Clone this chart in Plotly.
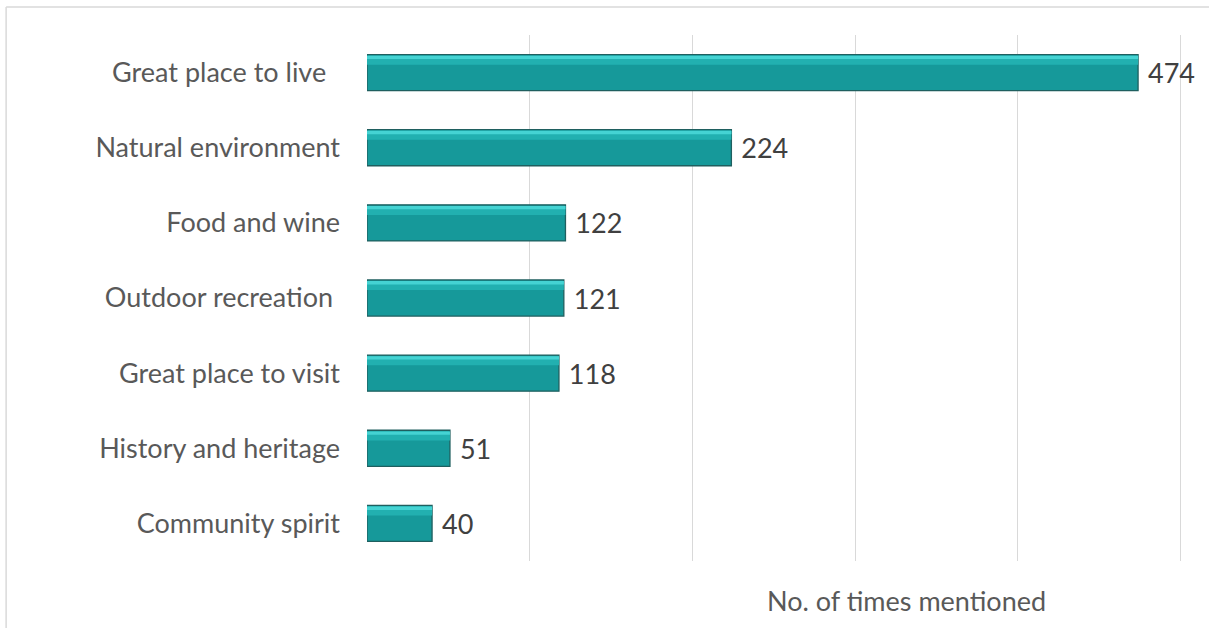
import plotly.graph_objects as go

categories = ["Great place to live\u00a0\u00a0", "Natural environment", "Food and wine",
              "Outdoor recreation\u00a0", "Great place to visit", "History and heritage",
              "Community spirit"]
values = [474, 224, 122, 121, 118, 51, 40]
x_ticks = [0, 100, 200, 300, 400, 500]

FONT = "Lato"
FS = 27

fig = go.Figure()
fig.add_trace(go.Bar(
    y=categories, x=values, orientation="h",
    marker=dict(color="#16999A", line=dict(color="#1F5F5F", width=1.3)),
    width=0.48,
    text=values, texttemplate="\u00a0%{x}", textposition="outside",
    textfont=dict(family=FONT, size=FS, color="#404040"),
    cliponaxis=False,
    showlegend=False,
))
# bevel highlights (top lighter strips)
fig.add_trace(go.Bar(
    y=categories, x=values, orientation="h",
    marker=dict(color="#22B0B0", line=dict(width=0)),
    width=0.12, offset=-0.225,
    hoverinfo="skip", showlegend=False,
))
fig.add_trace(go.Bar(
    y=categories, x=values, orientation="h",
    marker=dict(color="#45D3D3", line=dict(width=0)),
    width=0.045, offset=-0.225,
    hoverinfo="skip", showlegend=False,
))

fig.update_layout(
    width=1209, height=628,
    margin=dict(l=367, r=27, t=35, b=67),
    paper_bgcolor="white", plot_bgcolor="white",
    barmode="overlay",
    font=dict(family=FONT, size=FS, color="#595959"),
    xaxis=dict(range=[0, 501], tickvals=x_ticks, showticklabels=False,
               showgrid=True, gridcolor="#D9D9D9", gridwidth=1,
               zeroline=False, showline=False, fixedrange=True),
    yaxis=dict(autorange="reversed", showgrid=False, zeroline=False,
               ticklabelstandoff=26, ticks="", fixedrange=True,
               tickfont=dict(family=FONT, size=FS, color="#595959")),
    annotations=[dict(text="No. of times mentioned", xref="paper", yref="paper",
                      x=0.662, y=-0.075, xanchor="center", yanchor="middle",
                      showarrow=False, font=dict(family=FONT, size=FS, color="#595959"))],
    shapes=[
        dict(type="line", xref="paper", yref="paper", x0=-0.4428, x1=1.2,
             y0=1.0532, y1=1.0532, line=dict(color="#D9D9D9", width=1.5)),
        dict(type="line", xref="paper", yref="paper", x0=-0.4428, x1=-0.4428,
             y0=-0.2, y1=1.0532, line=dict(color="#D9D9D9", width=1.5)),
    ],
)

fig.write_html("out.html")
